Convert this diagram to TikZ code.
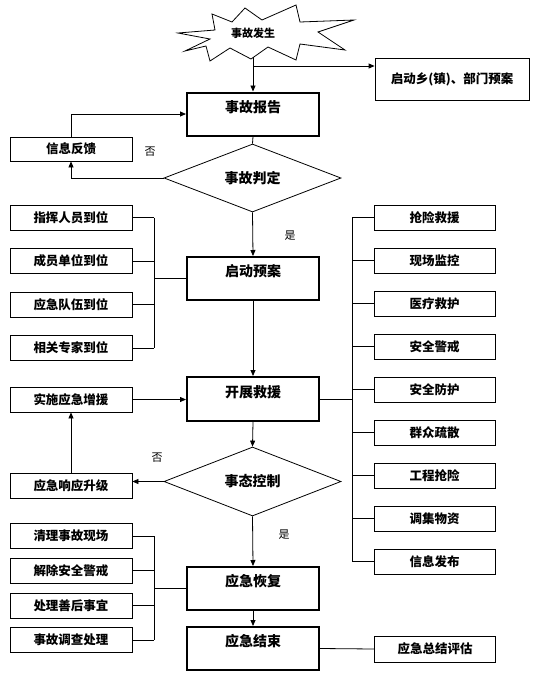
\documentclass[tikz,border=0pt]{standalone}
\usepackage{fontspec}
\setmainfont{Noto Sans CJK SC}
\usetikzlibrary{arrows.meta,positioning,shapes.geometric,calc}
\tikzset{
  mainbox/.style={draw, line width=2pt, minimum width=132pt, minimum height=43pt, inner sep=0pt, text height=11pt, text depth=15pt, font=\fontsize{14}{16}\selectfont\bfseries},
  sidebox/.style={draw, line width=0.8pt, minimum width=122pt, minimum height=25pt, inner sep=0pt, font=\fontsize{12.5}{14}\selectfont\bfseries},
  judgebox/.style={draw, diamond, line width=0.8pt, aspect=2.6, minimum width=177pt, minimum height=68pt, inner sep=0pt, font=\fontsize{14}{16}\selectfont\bfseries},
  flowarr/.style={-{Triangle[length=6pt,width=5pt]}},
  yesno/.style={font=\fontsize{11}{13}\selectfont}
}
\begin{document}
\begin{tikzpicture}[x=1pt, y=-1pt, line width=0.8pt]
\useasboundingbox (0,0) rectangle (559,678);
\draw[line join=miter] (178,33) -- (215,30) -- (212,14) -- (232,22) -- (245,8) -- (262,20) -- (296,5) -- (300,22) -- (354,20) -- (318,32) -- (345,50) -- (300,44) -- (296,60) -- (268,47) -- (251,59) -- (230,48) -- (210,61) -- (206,46) -- (185,51) -- (210,39) -- cycle;
\node[font=\fontsize{11}{13}\selectfont\bfseries] (occur) at (253,33) {事故发生};
\coordinate (occurtip) at (253,57);
\node[sidebox, minimum width=154pt, minimum height=42pt] (town) at (452,79) {启动乡(镇)、部门预案};
\node[mainbox] (report) at (253,114) {事故报告};
\node[sidebox, minimum height=24pt] (feedback) at (71,149) {信息反馈};
\node[judgebox] (judge) at (252.5,178) {事故判定};
\node[mainbox] (plan) at (253,278.5) {启动预案};
\node[mainbox, minimum height=44pt] (rescue) at (253,399) {开展救援};
\node[sidebox] (reinforce) at (71,399.5) {实施应急增援};
\node[judgebox, minimum height=69pt] (control) at (252.5,481.5) {事态控制};
\node[sidebox] (upgrade) at (71,485.5) {应急响应升级};
\node[mainbox] (recover) at (253,588.5) {应急恢复};
\node[mainbox] (finish) at (253,648.5) {应急结束};
\node[sidebox, minimum width=121pt, minimum height=26pt] (summary) at (435,649) {应急总结评估};
\node[yesno] (no1) at (150,152) {否};
\node[yesno] (yes1) at (290,236) {是};
\node[yesno] (no2) at (157,458) {否};
\node[yesno] (yes2) at (284,535) {是};
\foreach \t [count=\i] in {指挥人员到位,成员单位到位,应急队伍到位,相关专家到位}
  \node[sidebox] (l\i) at (71,217.5+43.5*\i-43.5) {\t};
\foreach \t [count=\i] in {清理事故现场,解除安全警戒,处理善后事宜,事故调查处理}
  \node[sidebox] (b\i) at (71,536+34.7*\i-34.7) {\t};
\foreach \t [count=\i] in {抢险救援,现场监控,医疗救护,安全警戒,安全防护,群众疏散,工程抢险,调集物资,信息发布}
  \node[sidebox, minimum width=121pt] (r\i) at (434.5,217.5+43*\i-43) {\t};
\coordinate (fork) at (253,66); \coordinate (lbus) at (154,0); \coordinate (rbus) at (352,0);
\draw[flowarr] (occurtip) -- (report.north);
\draw[flowarr] (fork) -- (fork -| town.west);
\draw (report.south) -- (judge.north);
\draw[flowarr] (judge.west) -| (feedback.south);
\draw[flowarr] (feedback.north) |- (report.west);
\draw[flowarr] (judge.south) -- (plan.north);
\draw[flowarr] (plan.south) -- (rescue.north);
\draw[flowarr] (reinforce.east) -- (reinforce.east -| rescue.west);
\draw[flowarr] (rescue.south) -- (control.north);
\draw[flowarr] (control.west) -- (control.west -| upgrade.east);
\draw[flowarr] (upgrade.north) -- (reinforce.south);
\draw[flowarr] (control.south) -- (recover.north);
\draw[flowarr] (recover.south) -- (finish.north);
\draw (finish.east) -- (summary.west);
\foreach \i in {1,...,4} \draw (l\i.east) -- (l\i.east -| lbus) (b\i.east) -- (b\i.east -| lbus);
\foreach \i in {1,...,9} \draw (r\i.west) -- (r\i.west -| rbus);
\draw (l1.east -| lbus) -- (l4.east -| lbus) (plan.west) -- (plan.west -| lbus);
\draw (b1.east -| lbus) -- (b4.east -| lbus) (recover.west) -- (recover.west -| lbus);
\draw (r1.west -| rbus) -- (r9.west -| rbus) (rescue.east) -- (rescue.east -| rbus);
\end{tikzpicture}
\end{document}
